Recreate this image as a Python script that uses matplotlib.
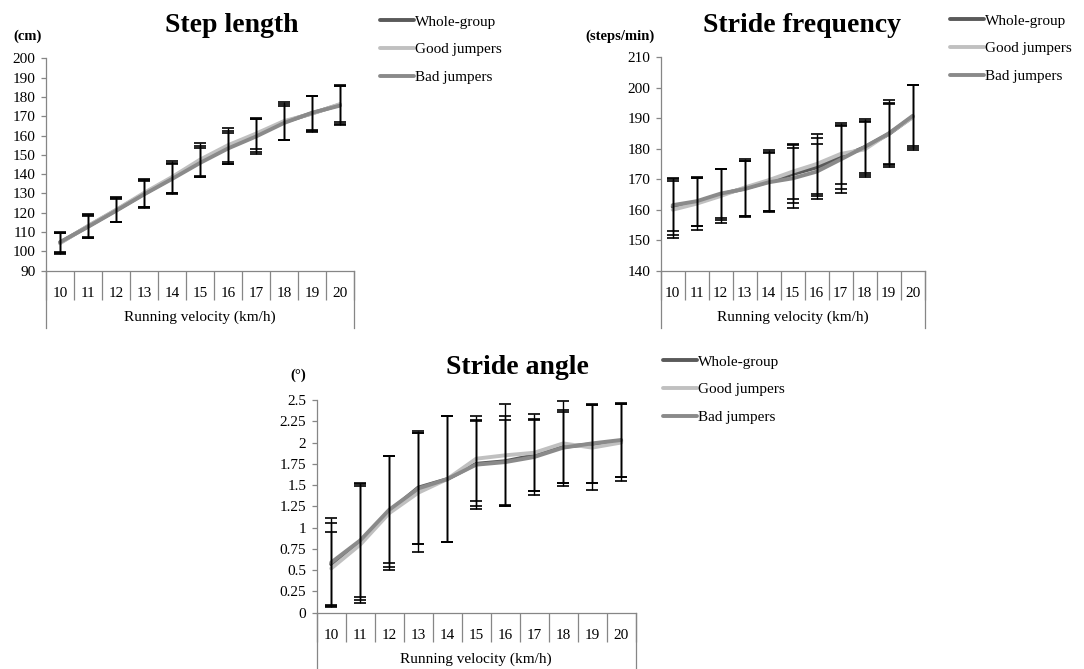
import numpy as np
import matplotlib
matplotlib.use('Agg')
import matplotlib.pyplot as plt

plt.rcParams['font.family'] = ['Liberation Serif', 'DejaVu Serif']

velocity = [10, 11, 12, 13, 14, 15, 16, 17, 18, 19, 20]
groups = ['Whole-group', 'Good jumpers', 'Bad jumpers']
group_colors = ['#5a5a5a', '#c0c0c0', '#8a8a8a']

# step length (cm)
step_whole = [104.5, 113.0, 121.3, 129.8, 138.0, 146.5, 154.0, 160.0, 167.0, 171.5, 176.0]
step_good = [104.2, 113.2, 121.5, 130.3, 138.5, 147.5, 155.0, 161.0, 167.5, 171.3, 176.3]
step_bad = [104.8, 112.7, 121.0, 129.5, 137.5, 145.8, 153.3, 159.5, 166.5, 171.8, 175.5]
step_whole_sd = [5.2, 6.0, 6.3, 7.0, 8.0, 8.0, 8.5, 8.5, 9.5, 9.0, 10.0]
step_good_sd = [5.5, 6.3, 6.5, 7.3, 8.3, 8.5, 8.8, 8.2, 10.0, 9.3, 9.5]
step_bad_sd = [5.0, 5.5, 6.0, 6.8, 7.8, 7.5, 8.2, 9.0, 9.0, 8.8, 10.2]

# stride frequency (steps/min)
freq_whole = [161.0, 162.5, 165.0, 167.0, 169.2, 171.7, 173.9, 177.2, 180.5, 184.8, 190.5]
freq_good = [160.0, 162.0, 164.5, 167.3, 169.7, 172.5, 175.0, 178.3, 179.8, 185.0, 190.3]
freq_bad = [161.5, 162.8, 165.3, 166.8, 169.0, 170.3, 172.5, 176.5, 180.6, 185.0, 190.8]
freq_whole_sd = [9.4, 7.8, 8.3, 9.0, 9.8, 9.5, 9.5, 10.5, 8.5, 10.0, 10.3]
freq_good_sd = [9.4, 8.5, 8.8, 9.5, 10.0, 9.0, 9.8, 10.0, 9.0, 11.0, 10.6]
freq_bad_sd = [8.5, 8.0, 8.0, 9.2, 9.5, 9.8, 9.0, 11.0, 9.2, 10.0, 10.0]

# stride angle (deg)
angle_whole = [0.57, 0.83, 1.19, 1.47, 1.57, 1.75, 1.78, 1.85, 1.95, 1.98, 2.02]
angle_good = [0.52, 0.80, 1.17, 1.41, 1.57, 1.81, 1.85, 1.88, 1.99, 1.94, 2.00]
angle_bad = [0.59, 0.85, 1.21, 1.46, 1.57, 1.74, 1.77, 1.83, 1.94, 1.99, 2.03]
angle_whole_sd = [0.49, 0.68, 0.65, 0.66, 0.74, 0.50, 0.53, 0.42, 0.43, 0.46, 0.43]
angle_good_sd = [0.43, 0.69, 0.67, 0.70, 0.74, 0.50, 0.60, 0.45, 0.50, 0.50, 0.45]
angle_bad_sd = [0.52, 0.67, 0.63, 0.65, 0.74, 0.52, 0.50, 0.45, 0.42, 0.46, 0.44]

W, H = 1084, 669
AXIS_GRAY = '#868686'


def px_rect(x0, x1, y_top, y_bottom):
    return [x0 / W, 1 - y_bottom / H, (x1 - x0) / W, (y_bottom - y_top) / H]


def draw_panel(ax, means, sds, yticks, title, unit, title_xy, unit_xy, legend_xy):
    fig = ax.figure
    for m, color in zip(means, group_colors):
        ax.plot(velocity, m, color=color, lw=2.8, solid_capstyle='round', zorder=2)
    for m, s in zip(means, sds):
        ax.errorbar(velocity, m, yerr=s, fmt='none', ecolor='black',
                    elinewidth=1.0, capsize=4.5, capthick=1.2, zorder=3)

    ax.set_xlim(9.5, 20.5)
    ax.set_ylim(yticks[0], yticks[-1])
    ax.set_yticks(yticks)
    ax.set_yticklabels(['%g' % t for t in yticks])
    ax.set_xticks(velocity)
    ax.set_xticks(np.arange(9.5, 21, 1.0), minor=True)

    for side in ['top', 'right']:
        ax.spines[side].set_visible(False)
    for side in ['left', 'bottom']:
        ax.spines[side].set_color(AXIS_GRAY)
        ax.spines[side].set_linewidth(0.9)

    ax.tick_params(axis='y', direction='out', length=3.5, width=0.9,
                   color=AXIS_GRAY, labelsize=11, pad=4)
    ax.tick_params(axis='x', which='major', length=0, labelsize=11, pad=12)
    ax.tick_params(axis='x', which='minor', direction='out', length=21,
                   width=0.9, color=AXIS_GRAY)

    # category bracket below the axis
    h_px = ax.get_position().height * H
    drop = 57 / h_px
    for xa in (0, 1):
        ax.plot([xa, xa], [0, -drop], transform=ax.transAxes, color=AXIS_GRAY,
                lw=0.9, clip_on=False)
    ax.annotate('Running velocity (km/h)', xy=(0.5, 0), xycoords='axes fraction',
                xytext=(0, -47 * 0.72), textcoords='offset points',
                ha='center', va='center', fontsize=11)

    fig.text(title_xy[0] / W, 1 - title_xy[1] / H, title, ha='center', va='center',
             fontsize=20, fontweight='bold')
    fig.text(unit_xy[0] / W, 1 - unit_xy[1] / H, unit, ha='center', va='center',
             fontsize=10.5, fontweight='bold')

    handles = ax.get_lines()[:3]
    ax.legend(handles, groups, loc='upper left',
              bbox_to_anchor=(legend_xy[0] / W, 1 - legend_xy[1] / H),
              bbox_transform=fig.transFigure, frameon=False, fontsize=11,
              handlelength=2.2, handletextpad=0.1, labelspacing=0.92,
              borderpad=0, borderaxespad=0)


fig = plt.figure(figsize=(W / 100, H / 100), dpi=100)

ax1 = fig.add_axes(px_rect(46, 354, 58.3, 270.7))
draw_panel(ax1, [step_whole, step_good, step_bad],
           [step_whole_sd, step_good_sd, step_bad_sd],
           list(range(90, 201, 10)), 'Step length', '(cm)',
           (232, 25), (28, 36), (380, 15))

ax2 = fig.add_axes(px_rect(660.7, 924.7, 57.3, 270.7))
draw_panel(ax2, [freq_whole, freq_good, freq_bad],
           [freq_whole_sd, freq_good_sd, freq_bad_sd],
           list(range(140, 211, 10)), 'Stride frequency', '(steps/min)',
           (802, 25), (620, 36), (950, 14))

ax3 = fig.add_axes(px_rect(316.7, 635.7, 400, 612.7))
draw_panel(ax3, [angle_whole, angle_good, angle_bad],
           [angle_whole_sd, angle_good_sd, angle_bad_sd],
           list(np.arange(0, 2.51, 0.25)), 'Stride angle', '(\u00b0)',
           (517, 367), (298, 375), (663, 355))

fig.savefig('out.png', dpi=100, facecolor='white')
